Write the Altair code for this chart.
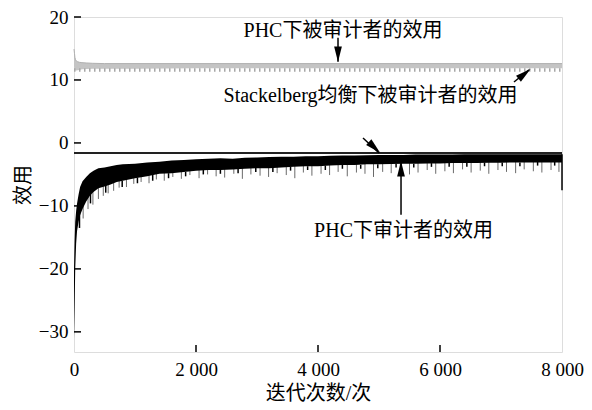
import altair as alt
import pandas as pd

# ---------------- data ----------------
# PHC auditor utility: envelope of the noisy black band
aud_x = [0, 10, 20, 35, 50, 75, 100, 140, 200, 260,
         320, 400, 500, 600, 700, 800, 1000, 1200, 1400, 1600,
         1800, 2000, 2200, 2400, 2600, 2800, 3000, 3200, 3400, 3600,
         3800, 4000, 4200, 4400, 4600, 4800, 5000, 5200, 5400, 5600,
         5800, 6000, 6200, 6400, 6600, 6800, 7000, 7200, 7400, 7600,
         7800, 8000]
aud_hi = [-20, -15.5, -12.5, -10.8, -9.6, -8.2, -7.0, -6.1, -5.4, -4.8,
          -4.4, -4.0, -3.9, -3.7, -3.5, -3.4, -3.3, -3.1, -3.0, -2.8,
          -2.7, -2.6, -2.5, -2.45, -2.5, -2.35, -2.3, -2.25, -2.2, -2.2,
          -2.1, -2.1, -2.05, -2.0, -2.0, -1.95, -1.9, -1.9, -1.9, -1.85,
          -1.85, -1.85, -1.85, -1.8, -1.8, -1.8, -1.8, -1.8, -1.8, -1.8,
          -1.8, -1.8]
aud_lo = [-31, -26, -20, -16, -14, -12.5, -11.5, -10.5, -9.3, -8.4,
          -7.8, -7.2, -6.9, -6.6, -6.2, -6.0, -5.6, -5.3, -4.9, -4.8,
          -4.6, -4.4, -4.3, -4.3, -4.2, -4.1, -4.0, -4.0, -3.9, -3.8,
          -3.7, -3.7, -3.6, -3.5, -3.5, -3.4, -3.4, -3.35, -3.3, -3.3,
          -3.25, -3.25, -3.2, -3.2, -3.2, -3.15, -3.15, -3.1, -3.1, -3.1,
          -3.1, -3.1]

# downward grey spikes of the auditor series
spk_x = [150, 230, 310, 400, 480, 560, 650, 740, 860, 980,
         1100, 1230, 1350, 1480, 1620, 1760, 1900, 2050, 2190, 2330,
         2470, 2620, 2760, 2900, 3050, 3190, 3330, 3480, 3620, 3760,
         3900, 4050, 4190, 4330, 4480, 4630, 4770, 4910, 5060, 5200,
         5350, 5500, 5640, 5790, 5930, 6080, 6220, 6370, 6510, 6660,
         6800, 6950, 7090, 7240, 7380, 7530, 7670, 7820, 7950]
spk_low = [-12.0, -10.5, -9.8, -8.9, -8.4, -8.0, -7.6, -7.1, -7.0, -6.5,
           -6.2, -6.4, -5.8, -6.0, -5.4, -5.7, -5.1, -5.6, -5.0, -5.3,
           -5.5, -4.9, -5.7, -5.0, -5.2, -5.4, -4.8, -5.1, -5.6, -4.7,
           -5.2, -4.9, -5.1, -4.6, -5.3, -4.7, -4.9, -5.4, -4.6, -4.8,
           -4.4, -5.0, -4.7, -4.3, -4.9, -4.5, -4.8, -4.2, -4.7, -4.4,
           -4.9, -4.3, -4.6, -4.8, -4.2, -4.5, -4.7, -4.3, -4.6]
spk_top = [-8.0, -7.0, -6.5, -6.0, -5.5, -5.3, -5.0, -4.8, -4.6, -4.4,
           -4.2, -4.0, -3.9, -3.8, -3.7, -3.6, -3.5, -3.5, -3.4, -3.4,
           -3.4, -3.3, -3.3, -3.3, -3.3, -3.2, -3.2, -3.2, -3.2, -3.2,
           -3.1, -3.1, -3.1, -3.1, -3.1, -3.0, -3.0, -3.0, -3.0, -3.0,
           -3.0, -3.0, -3.0, -3.0, -3.0, -2.9, -2.9, -2.9, -2.9, -2.9,
           -2.9, -2.9, -2.9, -2.9, -2.9, -2.9, -2.9, -2.9, -2.9]

# short black spikes (incl. the final drop at 8000)
blk_x = [90, 270, 520, 790, 1040, 1290, 1550, 1830, 2120, 2400,
         2690, 2980, 3260, 3550, 3830, 4120, 4400, 4700, 4980, 5280,
         5570, 5860, 6150, 6440, 6730, 7020, 7310, 7600, 7880, 8000]
blk_low = [-13.5, -9.6, -7.9, -7.0, -6.4, -6.0, -5.6, -5.3, -5.0, -4.9,
           -4.8, -4.6, -4.6, -4.4, -4.3, -4.3, -4.1, -4.1, -4.0, -3.9,
           -3.9, -3.8, -3.8, -3.8, -3.7, -3.7, -3.7, -3.6, -3.6, -7.5]
blk_top = [-11.0, -8.0, -6.5, -6.0, -5.5, -5.0, -4.8, -4.6, -4.3, -4.2,
           -4.0, -3.9, -3.9, -3.8, -3.7, -3.6, -3.5, -3.5, -3.4, -3.3,
           -3.3, -3.2, -3.2, -3.2, -3.1, -3.1, -3.1, -3.0, -3.0, -1.8]

# PHC auditee utility (grey band)
ee_x = [0, 8, 15, 25, 40, 60, 90, 130, 200, 300,
        500, 1000, 2000, 3000, 4000, 5000, 6000, 7000, 8000]
ee_hi = [14.9, 14.2, 13.6, 13.2, 13.0, 12.9, 12.8, 12.75, 12.7, 12.65,
         12.6, 12.6, 12.6, 12.6, 12.6, 12.6, 12.6, 12.6, 12.6]
ee_lo = [12.2, 11.6, 11.5, 11.5, 11.5, 11.55, 11.6, 11.7, 11.75, 11.8,
         11.8, 11.8, 11.85, 11.85, 11.85, 11.85, 11.85, 11.85, 11.85]

# Stackelberg equilibrium lines
stk_x = [0, 8000]
stk_auditor = [-1.6, -1.6]
stk_auditee = [11.6, 11.6]

# annotations
lab_text = ["PHC下被审计者的效用", "Stackelberg均衡下被审计者的效用", "PHC下审计者的效用"]
lab_x = [4410, 4861, 5402]
lab_y = [17.7, 7.5, -14.05]

arr_x1 = [4328, 7213, 4738, 5361]
arr_y1 = [16.7, 9.68, 0.79, -11.4]
arr_x2 = [4328, 7459, 5000, 5361]
arr_y2 = [12.9, 11.59, -1.59, -3.0]
head_x = [4328, 7385, 4925, 5361]
head_y = [14.1, 10.95, -0.7, -4.1]
head_angle = [180, 51, 133, 0]

x_ticks = [0, 2000, 4000, 6000, 8000]
y_ticks = [20, 10, 0, -10, -20, -30]

# ---------------- chart ----------------
SERIF = "Liberation Serif, Noto Sans CJK SC"
W, H = 488, 335

xs = alt.Scale(domain=[0, 8000], nice=False, zero=False)
ys = alt.Scale(domain=[-33.2, 20], nice=False, zero=False)
xaxis = alt.Axis(values=x_ticks, ticks=False, domain=False, grid=False,
                 labelExpr="replace(format(datum.value, ','), ',', ' ')",
                 labelFont=SERIF, labelFontSize=19, labelColor="black",
                 labelPadding=8, labelFlush=False,
                 title="迭代次数/次", titleFont=SERIF, titleFontSize=20,
                 titleFontWeight="normal", titleColor="black",
                 titleY=41, titleBaseline="middle")
yaxis = alt.Axis(values=y_ticks, ticks=False, domain=False, grid=False,
                 labelFont=SERIF, labelFontSize=19, labelColor="black",
                 labelPadding=6, labelFlush=False,
                 title="效用", titleFont=SERIF, titleFontSize=20,
                 titleFontWeight="normal", titleColor="black",
                 titleX=-51, titleY=H / 2, titleAlign="center",
                 titleBaseline="middle", titleAngle=-90)


def X(f):
    return alt.X(f, type="quantitative", scale=xs, axis=xaxis)


def Y(f):
    return alt.Y(f, type="quantitative", scale=ys, axis=yaxis)


df_aud = pd.DataFrame({"x": aud_x, "hi": aud_hi, "lo": aud_lo})
df_spk = pd.DataFrame({"x": spk_x, "lo": spk_low, "hi": spk_top})
df_blk = pd.DataFrame({"x": blk_x, "lo": blk_low, "hi": blk_top})
df_ee = pd.DataFrame({"x": ee_x, "hi": ee_hi, "lo": ee_lo})
df_stk = pd.DataFrame({"x": stk_x, "a": stk_auditor, "e": stk_auditee})
df_lab = pd.DataFrame({"x": lab_x, "y": lab_y, "t": lab_text})
df_arr = pd.DataFrame({"x1": arr_x1, "y1": arr_y1, "x2": arr_x2, "y2": arr_y2})
df_head = pd.DataFrame({"x": head_x, "y": head_y, "a": head_angle})
df_yt = pd.DataFrame({"v": y_ticks})
df_xt = pd.DataFrame({"v": [2000, 4000, 6000]})

ee_band = alt.Chart(df_ee).mark_area(color="#c4c4c4", opacity=1).encode(
    x=X("x"), y=Y("hi"), y2="lo")
ee_core = alt.Chart(df_ee).mark_line(color="#b0b0b0", strokeWidth=1).encode(
    x=X("x"), y=Y("hi"))
stk_ee = alt.Chart(df_stk).mark_line(color="#a8a8a8", strokeWidth=3.5,
                                     strokeDash=[1.5, 3.5]).encode(
    x=X("x"), y=Y("e"))

grey_spikes = alt.Chart(df_spk).mark_rule(color="#6a6a6a", strokeWidth=1).encode(
    x=X("x"), y=Y("lo"), y2="hi")
aud_band = alt.Chart(df_aud).mark_area(color="black", opacity=1).encode(
    x=X("x"), y=Y("hi"), y2="lo")
blk_spikes = alt.Chart(df_blk).mark_rule(color="black", strokeWidth=1.5).encode(
    x=X("x"), y=Y("lo"), y2="hi")
stk_aud = alt.Chart(df_stk).mark_line(color="#222", strokeWidth=2.2).encode(
    x=X("x"), y=Y("a"))

arrows = alt.Chart(df_arr).mark_rule(color="black", strokeWidth=1.5).encode(
    x=X("x1"), y=Y("y1"), x2="x2", y2="y2")
heads = alt.Chart(df_head).mark_point(shape="M0,-1L0.5,1L-0.5,1Z", filled=True,
                                      color="black", opacity=1, size=240).encode(
    x=X("x"), y=Y("y"), angle=alt.Angle("a", type="quantitative", scale=None))
labels = alt.Chart(df_lab).mark_text(font=SERIF, fontSize=20, color="black",
                                     align="center", baseline="middle").encode(
    x=X("x"), y=Y("y"), text="t")

yticks = alt.Chart(df_yt).mark_rule(color="black", strokeWidth=1.5).encode(
    y=Y("v"), x=alt.value(0), x2=alt.value(7))
xticks = alt.Chart(df_xt).mark_rule(color="black", strokeWidth=1.5).encode(
    x=X("v"), y=alt.value(H), y2=alt.value(H - 7))

chart = alt.layer(
    ee_band, ee_core, stk_ee, grey_spikes, aud_band, blk_spikes, stk_aud,
    arrows, heads, labels, yticks, xticks
).properties(
    width=W, height=H,
    autosize=alt.AutoSizeParams(type="none"),
    padding={"left": 66, "top": 9, "right": 22, "bottom": 50},
).configure_view(stroke="black", strokeWidth=2.2).configure(background="white")

chart.save("out.html", embed_options={"renderer": "svg", "actions": False})
